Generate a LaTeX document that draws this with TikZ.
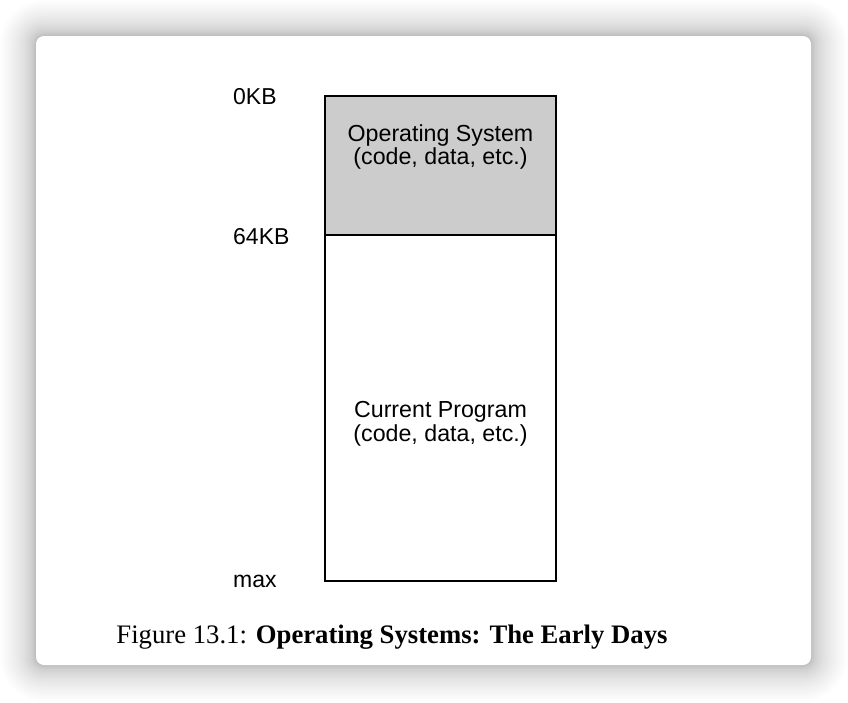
\documentclass[tikz,border=0pt]{standalone}
\usepackage{fontspec}
\newfontfamily\labelfont{Liberation Sans}
\newfontfamily\capfont{Liberation Serif}
\definecolor{osgray}{HTML}{CCCCCC}
\tikzset{
  memlabel/.style={anchor=west, inner sep=0pt, font=\labelfont\fontsize{23}{25}\selectfont},
  boxtext/.style={align=center, inner sep=0pt, font=\labelfont\fontsize{23.2}{23.5}\selectfont},
  memline/.style={line width=2pt, black}
}
\begin{document}
\begin{tikzpicture}[x=1pt, y=-1pt]
        \useasboundingbox (0,0) rectangle (848,702);

        % card with soft shadow
        \foreach \k in {1,...,36} \fill[black, opacity=.006, rounded corners=8+\k*\k/36] (36-\k*\k/36, 36-\k*\k/36) rectangle (811+\k*\k/36, 665+\k*\k/36);
        \fill[white, rounded corners=8] (36,36) rectangle (811,665);

        % memory
        \coordinate (top) at (325,96);
        \coordinate (split) at (556,235);
        \coordinate (splitl) at (325,235);
        \coordinate (bottom) at (556,581);
        \fill[osgray] (top) rectangle (split);
        \draw[memline] (top) rectangle (bottom);
        \draw[memline] (splitl) -- (split);

        \node[boxtext] (os) at (440.5,147) {Operating System\\(code, data, etc.)};
        \node[boxtext] (prog) at (440.5,424) {Current Program\\(code, data, etc.)};

        % addresses
        \node[memlabel] (kb0) at (233,97) {0KB};
        \node[memlabel] (kb64) at (233,237) {64KB};
        \node[memlabel] (max) at (233,581) {max};

        \node[inner sep=0pt, font=\capfont\fontsize{26.7}{28}\selectfont] (cap) at (392,637) {Figure 13.1: \textbf{Operating Systems: The Early Days}};
    \end{tikzpicture}
\end{document}
